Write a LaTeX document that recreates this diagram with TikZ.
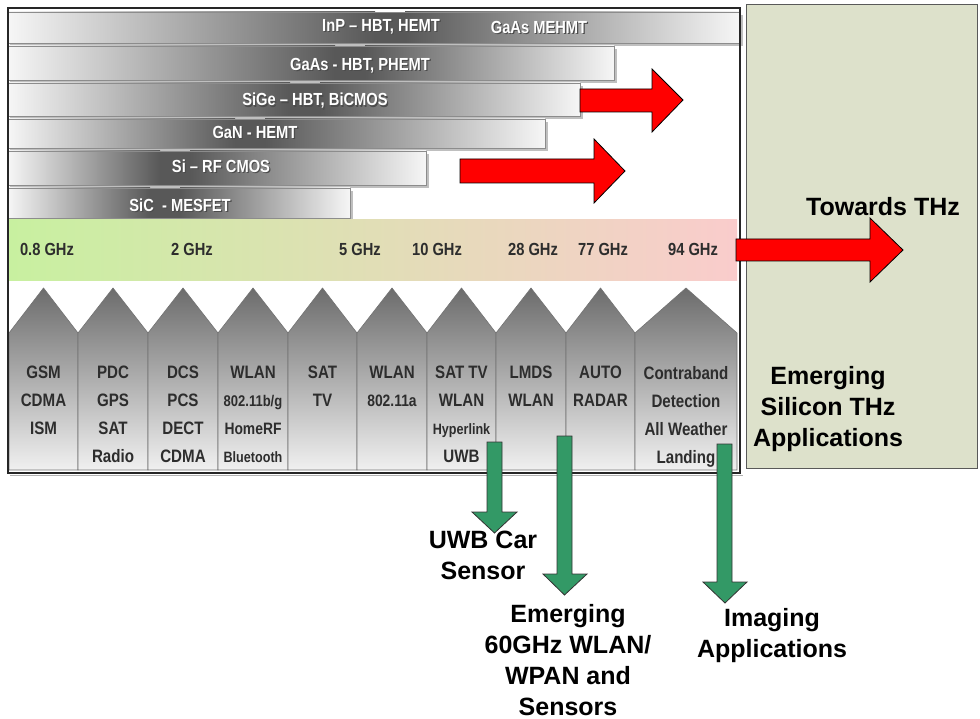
\documentclass[tikz,border=0pt]{standalone}
\usepackage{fontspec}
\setmainfont{Liberation Sans}
\newfontfamily\cond[FakeStretch=0.84]{Liberation Sans}
\definecolor{barlight}{RGB}{246,246,246}
\definecolor{bardark}{RGB}{88,88,88}
\definecolor{barline}{RGB}{140,140,140}
\definecolor{bandL}{RGB}{200,240,160}
\definecolor{bandM}{RGB}{236,228,178}
\definecolor{bandR}{RGB}{250,204,204}
\definecolor{coltop}{RGB}{108,108,108}
\definecolor{colbot}{RGB}{240,240,240}
\definecolor{txtdark}{RGB}{45,45,45}
\definecolor{panel}{RGB}{221,225,203}
\definecolor{arrgreen}{RGB}{51,153,102}
\begin{document}
\begin{tikzpicture}[x=1pt,y=-1pt,
  bartext/.style={font=\cond\bfseries\fontsize{17.5}{20}\selectfont, text=white, inner sep=0pt},
  barshadow/.style={font=\cond\bfseries\fontsize{17.5}{20}\selectfont, text=black!70, inner sep=0pt},
  bandtext/.style={font=\cond\bfseries\fontsize{17.5}{20}\selectfont, text=txtdark, inner sep=0pt},
  coltext/.style={font=\cond\bfseries\fontsize{18}{28}\selectfont, text=txtdark, inner sep=0pt, align=center, anchor=north},
  bigtext/.style={font=\bfseries\fontsize{25}{31}\selectfont, text=black, inner sep=0pt, align=center},
  redarrow/.style={fill=red, draw=black, line width=0.8pt, line join=miter},
  greenarrow/.style={fill=arrgreen, draw=black!80, line width=0.8pt, line join=miter},
  colshape/.style={top color=coltop, bottom color=colbot, draw=black!55, line width=0.6pt}
]
\useasboundingbox (0,0) rectangle (980,719);
\fill[white] (0,0) rectangle (980,719);

% right panel
\fill[panel, draw=black!65, line width=1pt] (746,5) rectangle (977,468);

% frame background
\fill[white] (8,8) rectangle (740,473);

% technology bars
\newcommand\techbar[4]{%
  \fill[black!25] (10,#1+3) rectangle (#3+3,#2+3);
  \fill[left color=barlight, right color=bardark] (8,#1) rectangle (#4-15,#2);
  \fill[bardark] (#4-15.5,#1) rectangle (#4+15.5,#2);
  \fill[left color=bardark, right color=barlight] (#4+15,#1) rectangle (#3,#2);
  \draw[barline, line width=0.8pt] (8,#1) rectangle (#3,#2);
}
\techbar{12}{43}{740}{390}
\techbar{46}{80}{614}{350}
\techbar{83}{116}{580}{305}
\techbar{119}{148}{545}{250}
\techbar{151}{185}{426}{175}
\techbar{188}{218}{350}{165}

\newcommand\bartxt[4]{%
  \node[barshadow] (#1s) at (#2+1.2,#3+1.2) {#4};
  \node[bartext] (#1) at (#2,#3) {#4};
}
\bartxt{inp}{381}{27}{InP – HBT, HEMT}
\bartxt{gaasm}{539}{27}{GaAs MEHMT}
\bartxt{gaas}{360}{66}{GaAs - HBT, PHEMT}
\bartxt{sige}{315}{101}{SiGe – HBT, BiCMOS}
\bartxt{gan}{255}{132}{GaN - HEMT}
\bartxt{si}{221}{166}{Si – RF CMOS}
\bartxt{sic}{180}{205}{SiC\ \ - MESFET}

% frequency band
\fill[left color=bandL, middle color=bandM, right color=bandR] (9,220) rectangle (737,281);
\node[bandtext] (f1) at (47,249) {0.8 GHz};
\node[bandtext] (f2) at (192,249) {2 GHz};
\node[bandtext] (f3) at (360,249) {5 GHz};
\node[bandtext] (f4) at (437,249) {10 GHz};
\node[bandtext] (f5) at (533,249) {28 GHz};
\node[bandtext] (f6) at (603,249) {77 GHz};
\node[bandtext] (f7) at (693,249) {94 GHz};

% application columns
\foreach \a/\b in {9/78,78/148,148/218,218/288,288/357,357/427,427/496,496/566,566/635,635/737}{
  \path[colshape] (\a,470) -- (\a,333) -- ({(\a+\b)/2},288) -- (\b,333) -- (\b,470) -- cycle;
}
\node[coltext] (c1) at (43.5,366) {GSM\\CDMA\\ISM};
\node[coltext] (c2) at (113,366) {PDC\\GPS\\SAT\\Radio};
\node[coltext] (c3) at (183,366) {DCS\\PCS\\DECT\\CDMA};
\node[coltext] (c4) at (253,366) {WLAN\\{\fontsize{15.5}{28}\selectfont 802.11b/g}\\{\fontsize{16.5}{28}\selectfont HomeRF}\\{\fontsize{15}{28}\selectfont Bluetooth}};
\node[coltext] (c5) at (322.5,366) {SAT\\TV};
\node[coltext] (c6) at (392,366) {WLAN\\{\fontsize{16.5}{28}\selectfont 802.11a}};
\node[coltext] (c7) at (461.5,366) {SAT TV\\WLAN\\{\fontsize{15}{28}\selectfont Hyperlink}\\UWB};
\node[coltext] (c8) at (531,366) {LMDS\\WLAN};
\node[coltext] (c9) at (600.5,366) {AUTO\\RADAR};
\node[coltext] (c10) at (686,366) {Contraband\\Detection\\All Weather\\Landing};

% frame
\draw[black!85, line width=1.6pt] (8,8) rectangle (740,473);
\draw[black!30, line width=1.5pt] (10,475.5) -- (742.5,475.5);

% red arrows
\draw[redarrow] (580,89) -- (652,89) -- (652,69) -- (683,100) -- (652,132) -- (652,112) -- (580,112) -- cycle;
\draw[redarrow] (460,159) -- (594,159) -- (594,139) -- (625,171) -- (594,203) -- (594,183) -- (460,183) -- cycle;
\draw[redarrow] (736,239) -- (870,239) -- (870,218) -- (903,250) -- (870,282) -- (870,261) -- (736,261) -- cycle;

% green arrows
\draw[greenarrow] (487,442) -- (502,442) -- (502,512) -- (517,512) -- (494.5,533) -- (472,512) -- (487,512) -- cycle;
\draw[greenarrow] (557,436) -- (572,436) -- (572,574) -- (587,574) -- (564.5,595) -- (543,574) -- (557,574) -- cycle;
\draw[greenarrow] (717,444) -- (732,444) -- (732,582) -- (747,582) -- (725,603) -- (703,582) -- (717,582) -- cycle;

% big labels
\node[bigtext] (thz) at (883,207) {Towards THz};
\node[bigtext] (emsi) at (828,409) {Emerging\\Silicon THz\\Applications};
\node[bigtext] (uwb) at (483,555) {UWB Car\\Sensor};
\node[bigtext] (em60) at (568,660) {Emerging\\60GHz WLAN/\\WPAN and\\Sensors};
\node[bigtext] (img) at (772,636) {Imaging\\Applications};
\end{tikzpicture}
\end{document}
